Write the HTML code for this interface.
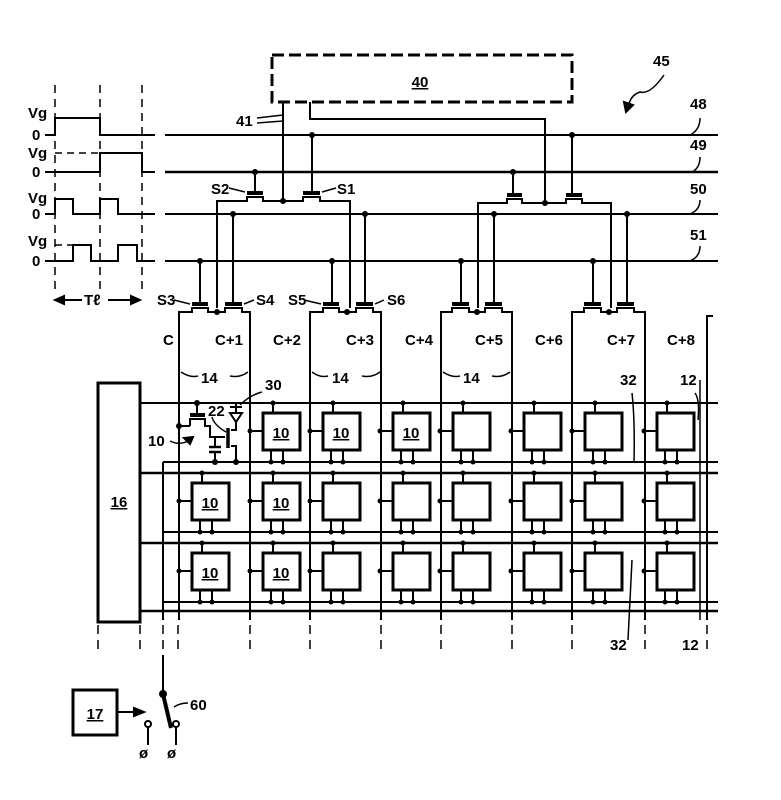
<!DOCTYPE html>
<html><head><meta charset="utf-8"><style>
html,body{margin:0;padding:0;background:#fff}
svg{display:block}
text{font-family:"Liberation Sans",sans-serif;font-weight:bold;fill:#000}
</style></head><body>
<svg width="781" height="800" viewBox="0 0 781 800" xmlns="http://www.w3.org/2000/svg">
<defs>
<g id="cell" stroke="#000" fill="none">
<rect x="0" y="0" width="37" height="37" stroke-width="3" fill="#fff"/>
<line x1="-13" y1="18" x2="0" y2="18" stroke-width="2"/>
<line x1="10" y1="-10" x2="10" y2="0" stroke-width="2"/>
<line x1="8" y1="37" x2="8" y2="49" stroke-width="2"/>
<line x1="20" y1="37" x2="20" y2="49" stroke-width="2"/>
<circle cx="-13" cy="18" r="2.5" fill="#000" stroke="none"/>
<circle cx="10" cy="-10" r="2.5" fill="#000" stroke="none"/>
<circle cx="8" cy="49" r="2.5" fill="#000" stroke="none"/>
<circle cx="20" cy="49" r="2.5" fill="#000" stroke="none"/>
</g>
</defs>
<g stroke="#000" fill="none" stroke-width="2">
<!-- box 40 -->
<rect x="272" y="55" width="300" height="47" stroke-width="3" stroke-dasharray="12,5"/>
<!-- timing dashed verticals -->
<g stroke-dasharray="8,6" stroke-width="1.5">
<line x1="55" y1="85" x2="55" y2="290"/><line x1="100" y1="85" x2="100" y2="290"/><line x1="142" y1="85" x2="142" y2="290"/>
</g>
<!-- waveforms -->
<polyline points="45,135 55,135 55,118 100,118 100,135 155,135"/>
<polyline points="45,172 100,172 100,153 142,153 142,172 155,172"/>
<line x1="55" y1="153" x2="100" y2="153" stroke-dasharray="7,5" stroke-width="1.5"/>
<polyline points="45,214 55,214 55,199 73,199 73,214 100,214 100,199 118,199 118,214 155,214"/>
<polyline points="45,261 73,261 73,245 91,245 91,261 118,261 118,245 137,245 137,261 155,261"/>
<line x1="55" y1="245" x2="73" y2="245" stroke-dasharray="7,5" stroke-width="1.5"/>
<!-- Tl arrows -->
<line x1="60" y1="300" x2="82" y2="300"/><polygon points="55,300 64,296 64,304" fill="#000"/>
<line x1="108" y1="300" x2="135" y2="300"/><polygon points="140,300 131,296 131,304" fill="#000"/>
<!-- bus lines -->
<line x1="165" y1="135" x2="718" y2="135"/>
<line x1="165" y1="172" x2="718" y2="172" stroke-width="2.5"/>
<line x1="165" y1="214" x2="718" y2="214"/>
<line x1="165" y1="261" x2="718" y2="261"/>
<!-- wires from 40 -->
<polyline points="283,102 283,201"/>
<polyline points="310,102 310,119 545,119 545,203"/>
<!-- group 1 S2/S1 -->
<polyline points="217,308 217,201 247,201 247,197 263,197 263,201 303,201 303,197 320,197 320,201 350,201 350,308"/>
<line x1="247" y1="193" x2="263" y2="193" stroke-width="4"/><line x1="303" y1="193" x2="320" y2="193" stroke-width="4"/>
<line x1="255" y1="172" x2="255" y2="193"/><line x1="312" y1="135" x2="312" y2="193"/>
<!-- group 2 -->
<polyline points="478,308 478,203 507,203 507,199 522,199 522,203 566,203 566,199 582,199 582,203 611,203 611,308"/>
<line x1="507" y1="195" x2="522" y2="195" stroke-width="4"/><line x1="566" y1="195" x2="582" y2="195" stroke-width="4"/>
<line x1="513" y1="172" x2="513" y2="195"/><line x1="572" y1="135" x2="572" y2="195"/>
<!-- bottom transistor pairs -->
<g id="pair1">
<polyline points="179,620 179,312 192,312 192,308 208,308 208,312 225,312 225,308 242,308 242,312 250,312 250,620"/>
<line x1="192" y1="304" x2="208" y2="304" stroke-width="4"/><line x1="225" y1="304" x2="242" y2="304" stroke-width="4"/>
<line x1="200" y1="261" x2="200" y2="304"/><line x1="233" y1="214" x2="233" y2="304"/>
</g>
<polyline points="310,620 310,312 323,312 323,308 339,308 339,312 356,312 356,308 373,308 373,312 381,312 381,620"/>
<line x1="323" y1="304" x2="339" y2="304" stroke-width="4"/><line x1="356" y1="304" x2="373" y2="304" stroke-width="4"/>
<line x1="332" y1="261" x2="332" y2="304"/><line x1="365" y1="214" x2="365" y2="304"/>
<polyline points="441,620 441,312 452,312 452,308 469,308 469,312 485,312 485,308 502,308 502,312 512,312 512,620"/>
<line x1="452" y1="304" x2="469" y2="304" stroke-width="4"/><line x1="485" y1="304" x2="502" y2="304" stroke-width="4"/>
<line x1="461" y1="261" x2="461" y2="304"/><line x1="494" y1="214" x2="494" y2="304"/>
<polyline points="572,620 572,312 584,312 584,308 601,308 601,312 617,312 617,308 634,308 634,312 645,312 645,620"/>
<line x1="584" y1="304" x2="601" y2="304" stroke-width="4"/><line x1="617" y1="304" x2="634" y2="304" stroke-width="4"/>
<line x1="593" y1="261" x2="593" y2="304"/><line x1="627" y1="214" x2="627" y2="304"/>
<!-- C+8 bracket -->
<polyline points="713,316 707,316 707,620"/>
<line x1="700" y1="380" x2="700" y2="620" stroke-width="1.5"/>
<!-- box 16 -->
<rect x="98" y="383" width="42" height="239" stroke-width="3"/>
<!-- row lines -->
<line x1="140" y1="403" x2="718" y2="403"/>
<line x1="163" y1="462" x2="718" y2="462"/>
<line x1="140" y1="473" x2="718" y2="473" stroke-width="2.5"/>
<line x1="163" y1="532" x2="718" y2="532"/>
<line x1="140" y1="543" x2="718" y2="543" stroke-width="2.5"/>
<line x1="163" y1="602" x2="718" y2="602"/>
<line x1="140" y1="611" x2="718" y2="611" stroke-width="2.5"/>
<line x1="163" y1="462" x2="163" y2="620"/>
<!-- 32 leader -->
<path d="M632 393 Q635 420 634 462" stroke-width="1.5"/>
<path d="M632 560 Q630 600 628 640" stroke-width="1.5"/>
<path d="M695 393 Q700 400 698 420" stroke-width="1.5"/>
<!-- bottom dashed -->
<g stroke-dasharray="9,6" stroke-width="1.5">
<line x1="98" y1="625" x2="98" y2="655"/><line x1="140" y1="625" x2="140" y2="655"/>
<line x1="163" y1="625" x2="163" y2="655"/><line x1="178" y1="625" x2="178" y2="655"/>
<line x1="250" y1="625" x2="250" y2="655"/><line x1="310" y1="625" x2="310" y2="655"/>
<line x1="381" y1="625" x2="381" y2="655"/><line x1="441" y1="625" x2="441" y2="655"/>
<line x1="512" y1="625" x2="512" y2="655"/><line x1="572" y1="625" x2="572" y2="655"/>
<line x1="645" y1="625" x2="645" y2="655"/><line x1="707" y1="625" x2="707" y2="655"/>
</g>
<!-- switch -->
<line x1="163" y1="655" x2="163" y2="694"/>
<line x1="163" y1="694" x2="171" y2="728" stroke-width="4"/>
<circle cx="148" cy="724" r="3"/><circle cx="176" cy="724" r="3"/>
<line x1="148" y1="727" x2="148" y2="745"/><line x1="176" y1="727" x2="176" y2="745"/>
<rect x="73" y="690" width="44" height="45" stroke-width="3"/>
<line x1="117" y1="712" x2="136" y2="712"/><polygon points="144,712 134,708 134,716" fill="#000"/>
<path d="M174 707 Q180 703 188 703" stroke-width="1.5"/>
<!-- leaders -->
<path d="M664 75 Q650 95 640 92 Q630 95 628 108" stroke-width="1.5"/>
<polygon points="626,112 624,102 633,105" fill="#000"/>
<path d="M700 118 Q700 130 690 135" stroke-width="1.5"/>
<path d="M700 157 Q700 168 692 172" stroke-width="1.5"/>
<path d="M700 200 Q700 210 690 214" stroke-width="1.5"/>
<path d="M700 246 Q700 257 690 261" stroke-width="1.5"/>
<path d="M257 118 L283 115 M257 123 L283 121" stroke-width="1.5"/>
<path d="M229 188 L245 192 M336 188 L322 192 M174 300 L190 304 M254 300 L244 304 M304 300 L321 304 M384 300 L375 304" stroke-width="1.5"/>
<!-- 14 braces -->
<path d="M181 372 Q190 378 198 376 M230 376 Q240 378 248 372 M312 372 Q320 378 328 376 M362 376 Q372 378 380 372 M443 372 Q452 378 460 376 M492 376 Q502 378 510 372" stroke-width="1.5"/>
<!-- row1 col0 transistor circuit -->
<line x1="179" y1="426" x2="190" y2="426"/>
<polyline points="190,426 190,419 205,419 205,426 210,426 210,437 225,437"/>
<line x1="190" y1="415" x2="205" y2="415" stroke-width="4"/>
<line x1="197" y1="403" x2="197" y2="415"/>
<line x1="215" y1="437" x2="215" y2="447"/>
<line x1="209" y1="447" x2="221" y2="447" stroke-width="2.5"/><line x1="209" y1="452" x2="221" y2="452" stroke-width="2.5"/>
<line x1="215" y1="452" x2="215" y2="462"/>
<line x1="228" y1="428" x2="228" y2="448" stroke-width="3.5"/>
<polyline points="225,437 225,437"/>
<polyline points="231,430 236,430 236,403"/>
<polyline points="231,446 236,446 236,462"/>
<polygon points="230,413 242,413 236,422" fill="#fff"/>
<line x1="230" y1="407" x2="242" y2="407"/>
<path d="M212 417 Q214 425 226 432" stroke-width="1.5"/>
<path d="M240 405 Q250 395 262 392" stroke-width="1.5"/>
<path d="M170 441 Q180 446 190 440" stroke-width="1.5"/>
<polygon points="193,437 184,438 190,444" fill="#000"/>
</g>
<g fill="#000">
<circle cx="283" cy="201" r="3"/><circle cx="545" cy="203" r="3"/>
<circle cx="255" cy="172" r="3"/><circle cx="312" cy="135" r="3"/>
<circle cx="513" cy="172" r="3"/><circle cx="572" cy="135" r="3"/>
<circle cx="217" cy="312" r="3"/><circle cx="347" cy="312" r="3"/><circle cx="477" cy="312" r="3"/><circle cx="609" cy="312" r="3"/>
<circle cx="200" cy="261" r="3"/><circle cx="233" cy="214" r="3"/>
<circle cx="332" cy="261" r="3"/><circle cx="365" cy="214" r="3"/>
<circle cx="461" cy="261" r="3"/><circle cx="494" cy="214" r="3"/>
<circle cx="593" cy="261" r="3"/><circle cx="627" cy="214" r="3"/>
<circle cx="179" cy="426" r="3"/><circle cx="197" cy="403" r="3"/><circle cx="215" cy="462" r="3"/><circle cx="236" cy="462" r="3"/>
<circle cx="163" cy="694" r="4"/>
</g>
<!-- cells -->
<use href="#cell" x="263" y="413"/><use href="#cell" x="323" y="413"/><use href="#cell" x="393" y="413"/><use href="#cell" x="453" y="413"/><use href="#cell" x="524" y="413"/><use href="#cell" x="585" y="413"/><use href="#cell" x="657" y="413"/>
<use href="#cell" x="192" y="483"/><use href="#cell" x="263" y="483"/><use href="#cell" x="323" y="483"/><use href="#cell" x="393" y="483"/><use href="#cell" x="453" y="483"/><use href="#cell" x="524" y="483"/><use href="#cell" x="585" y="483"/><use href="#cell" x="657" y="483"/>
<use href="#cell" x="192" y="553"/><use href="#cell" x="263" y="553"/><use href="#cell" x="323" y="553"/><use href="#cell" x="393" y="553"/><use href="#cell" x="453" y="553"/><use href="#cell" x="524" y="553"/><use href="#cell" x="585" y="553"/><use href="#cell" x="657" y="553"/>
<g font-size="15" text-anchor="middle" text-decoration="underline">
<text x="281" y="438">10</text><text x="341" y="438">10</text><text x="411" y="438">10</text>
<text x="210" y="508">10</text><text x="281" y="508">10</text>
<text x="210" y="578">10</text><text x="281" y="578">10</text>
<text x="420" y="87">40</text><text x="119" y="507">16</text><text x="95" y="719">17</text>
</g>
<g font-size="15">
<text x="653" y="66">45</text>
<text x="690" y="109">48</text><text x="690" y="150">49</text><text x="690" y="194">50</text><text x="690" y="240">51</text>
<text x="236" y="126">41</text>
<text x="211" y="194">S2</text><text x="337" y="194">S1</text>
<text x="157" y="305">S3</text><text x="256" y="305">S4</text><text x="288" y="305">S5</text><text x="387" y="305">S6</text>
<text x="28" y="118">Vg</text><text x="32" y="140">0</text>
<text x="28" y="158">Vg</text><text x="32" y="177">0</text>
<text x="28" y="203">Vg</text><text x="32" y="219">0</text>
<text x="28" y="246">Vg</text><text x="32" y="266">0</text>
<text x="84" y="305">Tℓ</text>
<text x="163" y="345">C</text><text x="215" y="345">C+1</text><text x="273" y="345">C+2</text><text x="346" y="345">C+3</text>
<text x="405" y="345">C+4</text><text x="475" y="345">C+5</text><text x="535" y="345">C+6</text><text x="607" y="345">C+7</text><text x="667" y="345">C+8</text>
<text x="201" y="383">14</text><text x="332" y="383">14</text><text x="463" y="383">14</text>
<text x="620" y="385">32</text><text x="680" y="385">12</text>
<text x="610" y="650">32</text><text x="682" y="650">12</text>
<text x="265" y="390">30</text><text x="208" y="416">22</text><text x="148" y="446">10</text>
<text x="190" y="710">60</text>
<text x="139" y="758">ø</text><text x="167" y="758">ø</text>
</g>
</svg>
</body></html>
